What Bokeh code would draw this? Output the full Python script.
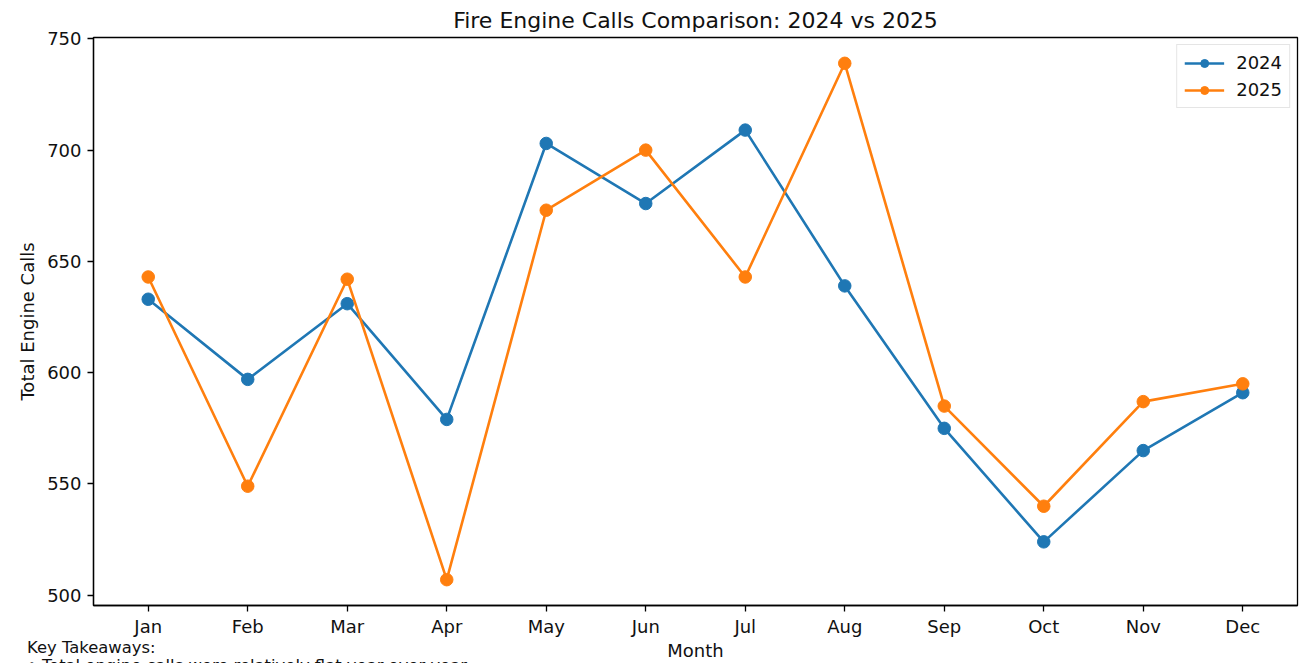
from bokeh.plotting import figure
from bokeh.layouts import column
from bokeh.models import ColumnDataSource, FixedTicker, Range1d, Legend, LegendItem, Title, Div
from bokeh.embed import file_html
from bokeh.resources import INLINE

months = ["Jan", "Feb", "Mar", "Apr", "May", "Jun", "Jul", "Aug", "Sep", "Oct", "Nov", "Dec"]
calls_2024 = [633, 597, 631, 579, 703, 676, 709, 639, 575, 524, 565, 591]
calls_2025 = [643, 549, 642, 507, 673, 700, 643, 739, 585, 540, 587, 595]
y_ticks = [500, 550, 600, 650, 700, 750]
title_text = "Fire Engine Calls Comparison: 2024 vs 2025"
takeaways = ["Key Takeaways:", "\u2022 Total engine calls were relatively flat year over year"]

W, H = 1299, 663
BL, BR, BT, BB = 93, 2, 37, 57
FONT = "DejaVu Sans"

x = list(range(len(months)))
x0, x1 = -0.55, len(months) - 1 + 0.55
lo = min(min(calls_2024), min(calls_2025))
hi = max(max(calls_2024), max(calls_2025))
pad = (hi - lo) * 0.05
y0, y1 = lo - pad, hi + pad

p = figure(width=W, height=H, output_backend="svg", toolbar_location=None,
           x_range=Range1d(x0, x1), y_range=Range1d(y0, y1),
           min_border_left=BL, min_border_right=BR, min_border_top=BT, min_border_bottom=BB)
p.title = Title(text=title_text, align="center", text_font=FONT, text_font_size="22px",
                text_font_style="normal", text_color="#111111", standoff=10)
p.background_fill_color = "white"
p.border_fill_color = "white"
p.outline_line_color = "black"
p.outline_line_width = 1.3
p.grid.visible = False

src = ColumnDataSource(dict(x=x, a=calls_2024, b=calls_2025))
c1, c2 = "#1f77b4", "#ff7f0e"
l1 = p.line("x", "a", source=src, color=c1, line_width=2.6)
m1 = p.scatter("x", "a", source=src, size=12.5, color=c1)
l2 = p.line("x", "b", source=src, color=c2, line_width=2.6)
m2 = p.scatter("x", "b", source=src, size=12.5, color=c2)

p.xaxis.ticker = FixedTicker(ticks=x)
p.xaxis.major_label_overrides = {i: m for i, m in enumerate(months)}
p.yaxis.ticker = FixedTicker(ticks=y_ticks)
for ax in (p.xaxis, p.yaxis):
    ax.axis_line_color = "black"
    ax.axis_line_width = 1.3
    ax.major_tick_line_color = "black"
    ax.major_tick_line_width = 1.3
    ax.major_tick_out = 6
    ax.major_tick_in = 0
    ax.minor_tick_line_color = None
    ax.major_label_text_font = FONT
    ax.major_label_text_font_size = "18px"
    ax.major_label_text_color = "#111111"
    ax.axis_label_text_font = FONT
    ax.axis_label_text_font_size = "18px"
    ax.axis_label_text_font_style = "normal"
    ax.axis_label_text_color = "#111111"
p.xaxis.axis_label = "Month"
p.yaxis.axis_label = "Total Engine Calls"
p.xaxis.major_label_standoff = 4
p.xaxis.axis_label_standoff = 0
p.yaxis.major_label_standoff = 6
p.yaxis.axis_label_standoff = 6

legend = Legend(items=[LegendItem(label="2024", renderers=[l1, m1]),
                       LegendItem(label="2025", renderers=[l2, m2])],
                location="top_right", label_text_font=FONT, label_text_font_size="18px",
                label_text_color="#111111", border_line_color="#cccccc", border_line_width=1.2,
                background_fill_alpha=0.8, glyph_width=40, glyph_height=20, label_standoff=12,
                padding=7, spacing=6, margin=7)
p.add_layout(legend)

note = Div(text="<br>".join(takeaways), width=700, height=40, margin=(-24, 0, 0, 27),
           styles={"font-family": FONT, "font-size": "16.4px", "line-height": "18px",
                   "color": "#111111", "white-space": "nowrap"})

open("out.html", "w").write(file_html(column(p, note, spacing=0), INLINE))
